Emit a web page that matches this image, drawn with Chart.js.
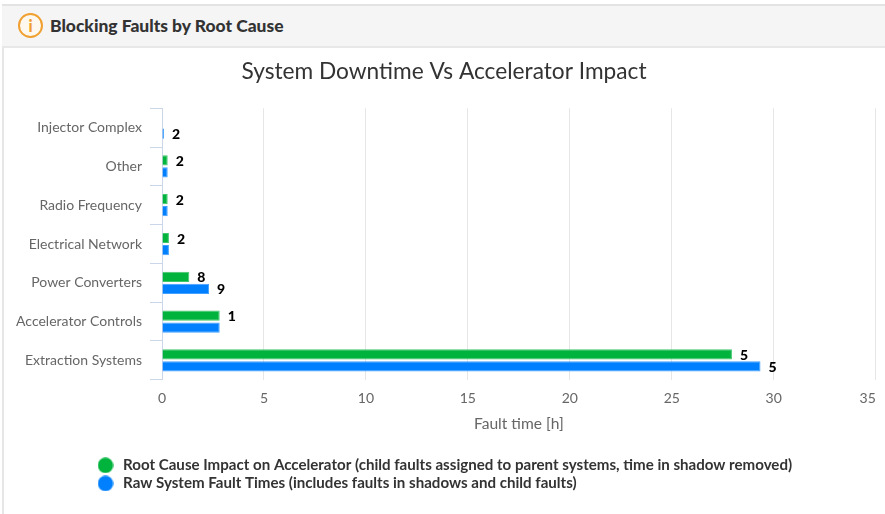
<!DOCTYPE html>
<html>
<head>
<meta charset="utf-8">
<title>Blocking Faults by Root Cause</title>
<script src="https://cdn.jsdelivr.net/npm/chart.js@4"></script>
<style>
    html, body { margin: 0; padding: 0; background: #fff; overflow: hidden; }
    #wrap { position: relative; width: 885px; height: 514px; }
    #side { position: absolute; left: 2px; top: 5px; bottom: 0; width: 2px; background: #e6e6e6; }
    #head {
        position: absolute; left: 2px; top: 4px; width: 883px; height: 40px;
        background: #f5f5f5; border-top: 2px solid #e3e3e3; border-bottom: 2px solid #e8e8e8;
    }
    #icon {
        position: absolute; left: 16px; top: 7px; width: 21px; height: 21px;
        border: 2px solid #f0a030; border-radius: 50%; background: #fff8ee;
        color: #f0a030; font: 900 16px/21px Lato, sans-serif; text-align: center;
    }
    #headText {
        position: absolute; left: 48px; top: 8px;
        font: 900 17.45px/24px Lato, sans-serif; color: #333;
    }
    canvas { position: absolute; left: 0; top: 0; }
</style>
</head>
<body>
<div id="wrap">
    <canvas id="faultChart" width="885" height="514"></canvas>
    <div id="side"></div>
    <div id="head"><div id="icon">i</div><div id="headText">Blocking Faults by Root Cause</div></div>
</div>
<script>
const categories = ['Injector Complex', 'Other', 'Radio Frequency', 'Electrical Network', 'Power Converters', 'Accelerator Controls', 'Extraction Systems'];
const impactHours = [null, 0.28, 0.28, 0.34, 1.34, 2.83, 27.95];
const rawHours = [0.1, 0.28, 0.28, 0.34, 2.31, 2.83, 29.35];
const impactCounts = [null, 2, 2, 2, 8, 1, 5];
const rawCounts = [2, null, null, null, 9, null, 5];
const xTicks = [0, 5, 10, 15, 20, 25, 30, 35];

const barLabels = {
    id: 'barLabels',
    afterDatasetsDraw(chart) {
        const {ctx} = chart;
        ctx.save();
        ctx.font = '900 14px Lato, sans-serif';
        ctx.fillStyle = '#000';
        ctx.textBaseline = 'middle';
        [impactCounts, rawCounts].forEach((counts, d) => {
            chart.getDatasetMeta(d).data.forEach((bar, i) => {
                if (counts[i] !== null) {
                    ctx.fillText(counts[i], bar.x + 8, bar.y + 1);
                }
            });
        });
        ctx.restore();
    }
};

// legend block starts right of the canvas edge, title sits a little right of centre
const layoutShift = {
    id: 'layoutShift',
    afterLayout(chart) {
        chart.legend.left = 92.5;
        chart.titleBlock.left += 1.5;
        chart.titleBlock.right += 1.5;
    },
    // last x label ends at the plot edge instead of being centred on its gridline
    beforeDraw(chart) {
        const items = chart.scales.x.getLabelItems();
        items[items.length - 1].options.translation[0] -= 8;
    }
};

// canvas markers so the gap between dot and text can be set with pointStyleWidth
function legendDot(color) {
    const dot = document.createElement('canvas');
    dot.width = 16;
    dot.height = 16;
    const c = dot.getContext('2d');
    c.fillStyle = color;
    c.arc(8, 8, 7.7, 0, Math.PI * 2);
    c.fill();
    return dot;
}

new Chart(document.getElementById('faultChart'), {
    type: 'bar',
    plugins: [barLabels, layoutShift],
    data: {
        labels: categories,
        datasets: [{
            label: 'Root Cause Impact on Accelerator (child faults assigned to parent systems, time in shadow removed)',
            data: impactHours,
            backgroundColor: '#00b33c',
            borderColor: '#40c66d',
            borderWidth: 1,
            pointStyle: legendDot('#00b33c'),
            categoryPercentage: 0.62,
            barPercentage: 0.85
        }, {
            label: 'Raw System Fault Times (includes faults in shadows and child faults)',
            data: rawHours,
            backgroundColor: '#0080ff',
            borderColor: '#409fff',
            borderWidth: 1,
            pointStyle: legendDot('#0080ff'),
            categoryPercentage: 0.62,
            barPercentage: 0.85
        }]
    },
    options: {
        indexAxis: 'y',
        responsive: false,
        animation: false,
        layout: { padding: { top: 58, left: 0, right: 0, bottom: 13 } },
        plugins: {
            tooltip: { enabled: false },
            title: {
                display: true,
                text: 'System Downtime Vs Accelerator Impact',
                color: '#333',
                font: { family: 'Lato, sans-serif', size: 22.7, weight: '400' },
                padding: { top: 0, bottom: 23 }
            },
            legend: {
                position: 'bottom',
                align: 'start',
                onClick: null,
                labels: {
                    usePointStyle: true,
                    pointStyleWidth: 20,
                    boxHeight: 11,
                    padding: 3,
                    color: '#333',
                    font: { family: 'Lato, sans-serif', size: 15.1, weight: '700' },
                    generateLabels(chart) {
                        return chart.data.datasets.map((ds, i) => ({
                            text: ds.label,
                            datasetIndex: i,
                            pointStyle: ds.pointStyle,
                            fontColor: '#333',
                            lineWidth: 0
                        }));
                    }
                }
            }
        },
        scales: {
            x: {
                min: 0,
                max: 35,
                afterBuildTicks(axis) { axis.ticks = xTicks.map(v => ({value: v})); },
                afterFit(axis) { axis.paddingRight = 9.3; },
                border: { display: false },
                grid: { color: '#e6e6e6', drawTicks: false },
                ticks: { color: '#666', padding: 10, font: { family: 'Lato, sans-serif', size: 14 } },
                title: {
                    display: true,
                    text: 'Fault time [h]',
                    color: '#666',
                    padding: { top: -2, bottom: 21.5 },
                    font: { family: 'Lato, sans-serif', size: 15.6 }
                }
            },
            y: {
                afterFit(axis) { axis.width = 162; },
                border: { color: '#ccd6eb' },
                grid: { drawOnChartArea: false, color: '#ccd6eb', tickLength: 12 },
                ticks: { color: '#666', padding: 8, font: { family: 'Lato, sans-serif', size: 14 } }
            }
        }
    }
});
</script>
</body>
</html>
